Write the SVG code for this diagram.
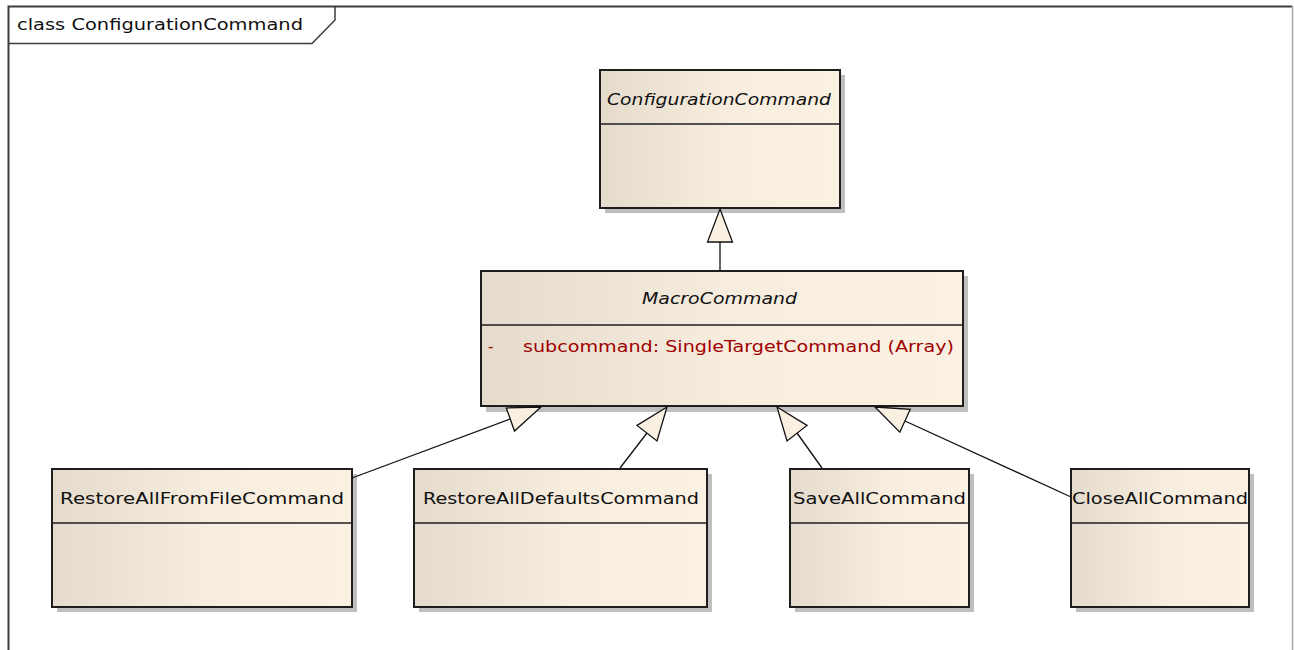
<svg xmlns="http://www.w3.org/2000/svg" width="1294" height="650" viewBox="0 0 1294 650">
  <defs>
    <linearGradient id="fill" x1="0" y1="0" x2="1" y2="0">
      <stop offset="0" stop-color="#e4dbcd"/>
      <stop offset="0.55" stop-color="#f8eee0"/>
      <stop offset="1" stop-color="#fbf1e3"/>
    </linearGradient>
  </defs>
  <style>
    .shadow { fill: #bfbfbf; }
    .box { fill: url(#fill); stroke: #1e1e1e; stroke-width: 2; }
    .div { stroke: #1e1e1e; stroke-width: 1.6; }
    .t { font-family: "DejaVu Sans", "Liberation Sans", sans-serif; font-size: 15px; fill: #111; }
    .it { font-style: italic; }
    .attr { fill: #a00000; }
    .conn { stroke: #111; stroke-width: 1.3; fill: none; }
    .head { fill: #faf0e2; stroke: #111; stroke-width: 1.3; stroke-linejoin: miter; }
  </style>
  <rect x="0" y="0" width="1294" height="650" fill="#ffffff"/>

  <g id="frame">
    <path d="M8.5,650 L8.5,6.5 L1292,6.5" fill="none" stroke="#3c3c3c" stroke-width="2"/>
    <line x1="1292.5" y1="6" x2="1292.5" y2="650" stroke="#a8a8a8" stroke-width="1.5"/>
    <path d="M8.5,43.5 L312,43.5 L335,20 L335,6.5" fill="none" stroke="#3c3c3c" stroke-width="1.5"/>
    <text class="t" x="17" y="30" textLength="286" lengthAdjust="spacingAndGlyphs">class ConfigurationCommand</text>
  </g>

  <g id="ConfigurationCommand">
    <rect class="shadow" x="605" y="75" width="240" height="138"/>
    <rect class="box" x="600" y="70" width="240" height="138"/>
    <line class="div" x1="600" y1="124" x2="840" y2="124"/>
    <text class="t it" x="607" y="105" textLength="224" lengthAdjust="spacingAndGlyphs">ConfigurationCommand</text>
  </g>

  <g id="MacroCommand">
    <rect class="shadow" x="486" y="276" width="482" height="136"/>
    <rect class="box" x="481" y="271" width="482" height="135"/>
    <line class="div" x1="481" y1="325" x2="963" y2="325"/>
    <text class="t it" x="642" y="304" textLength="155" lengthAdjust="spacingAndGlyphs">MacroCommand</text>
    <text class="t attr" x="488" y="352">-</text>
    <text class="t attr" x="523" y="352" textLength="431" lengthAdjust="spacingAndGlyphs">subcommand:  SingleTargetCommand (Array)</text>
  </g>

  <g id="RestoreAllFromFileCommand">
    <rect class="shadow" x="57" y="474" width="300" height="138"/>
    <rect class="box" x="52" y="469" width="300" height="138"/>
    <line class="div" x1="52" y1="523" x2="352" y2="523"/>
    <text class="t" x="60" y="504" textLength="284" lengthAdjust="spacingAndGlyphs">RestoreAllFromFileCommand</text>
  </g>

  <g id="RestoreAllDefaultsCommand">
    <rect class="shadow" x="419" y="474" width="293" height="138"/>
    <rect class="box" x="414" y="469" width="293" height="138"/>
    <line class="div" x1="414" y1="523" x2="707" y2="523"/>
    <text class="t" x="423" y="504" textLength="276" lengthAdjust="spacingAndGlyphs">RestoreAllDefaultsCommand</text>
  </g>

  <g id="SaveAllCommand">
    <rect class="shadow" x="795" y="474" width="179" height="138"/>
    <rect class="box" x="790" y="469" width="179" height="138"/>
    <line class="div" x1="790" y1="523" x2="969" y2="523"/>
    <text class="t" x="793" y="504" textLength="173" lengthAdjust="spacingAndGlyphs">SaveAllCommand</text>
  </g>

  <g id="CloseAllCommand">
    <rect class="shadow" x="1076" y="474" width="178" height="138"/>
    <rect class="box" x="1071" y="469" width="178" height="138"/>
    <line class="div" x1="1071" y1="523" x2="1249" y2="523"/>
    <text class="t" x="1072" y="504" textLength="176" lengthAdjust="spacingAndGlyphs">CloseAllCommand</text>
  </g>

  <g id="connectors">
    <line class="conn" x1="720" y1="270" x2="720" y2="242"/>
    <polygon class="head" points="720,209 732.5,242 707.5,242"/>
    <line class="conn" x1="352" y1="478" x2="510" y2="419"/>
    <polygon class="head" points="541,407 506.3,408 514.5,431"/>
    <line class="conn" x1="620" y1="468" x2="647" y2="433"/>
    <polygon class="head" points="667,407 637,425.4 657,441"/>
    <line class="conn" x1="822" y1="468" x2="797" y2="433"/>
    <polygon class="head" points="777,407 807,425.4 787,441"/>
    <line class="conn" x1="1071" y1="497" x2="905" y2="421"/>
    <polygon class="head" points="875,407 910.2,409.4 899.8,432.2"/>
  </g>
</svg>
